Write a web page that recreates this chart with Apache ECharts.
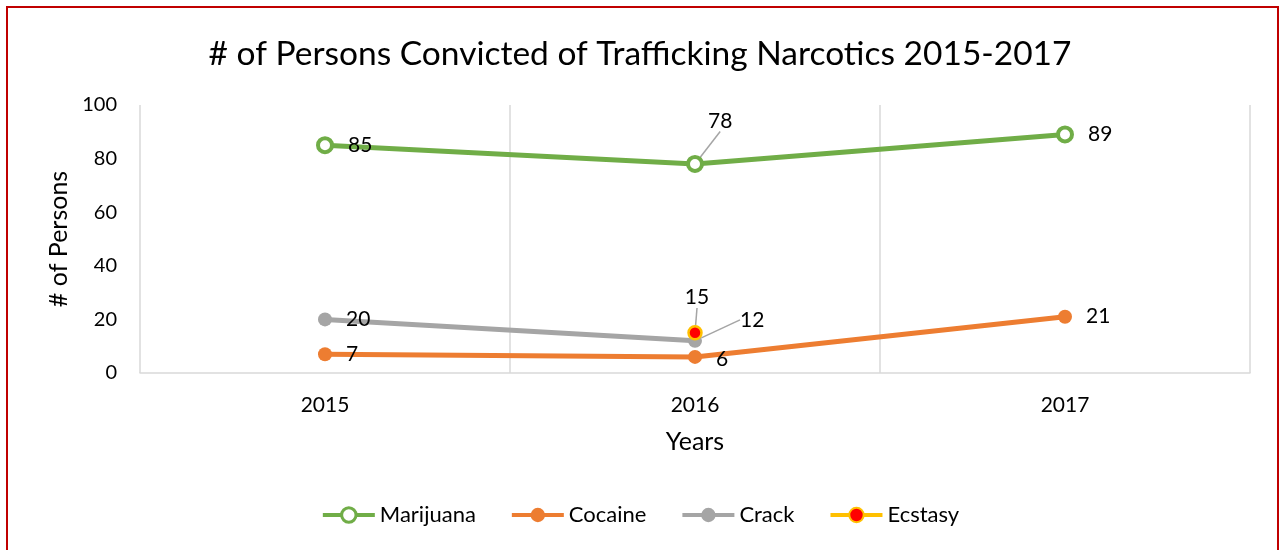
<!DOCTYPE html>
<html>
<head>
<meta charset="utf-8">
<script src="https://cdn.jsdelivr.net/npm/echarts@6/dist/echarts.min.js"></script>
<style>
  html, body { margin: 0; padding: 0; background: #fff; }
  #chart { width: 1280px; height: 550px; }
</style>
</head>
<body>
<div id="chart"></div>
<script>
// Convictions for narcotics trafficking, by drug and year
const years = ['2015', '2016', '2017'];
const marijuana = [85, 78, 89];
const cocaine = [7, 6, 21];
const crack = [20, 12, null];
const ecstasy = [null, 15, null];
const yTicks = { min: 0, max: 100, interval: 20 };

const FONT = 'Lato, "Open Sans", sans-serif';
const GRID_COLOR = '#d9d9d9';
const LEADER = { show: true, lineStyle: { color: '#a5a5a5', width: 1.5 } };

function labelStyle(extra) {
  return Object.assign({
    show: true,
    fontFamily: FONT,
    fontSize: 21,
    color: '#000'
  }, extra);
}

// values with a guide line on selected points
function withLeader(values, indices) {
  return values.map(function (v, i) {
    if (v === null) return null;
    return indices.indexOf(i) >= 0 ? { value: v, labelLine: LEADER } : v;
  });
}

const chart = echarts.init(document.getElementById('chart'), null, { renderer: 'canvas' });

chart.setOption({
  backgroundColor: '#fff',
  animation: false,
  textStyle: { fontFamily: FONT },
  graphic: [{
    type: 'rect',
    shape: { x: 7, y: 7, width: 1271, height: 600 },
    style: { fill: 'none', stroke: '#c00000', lineWidth: 2 },
    silent: true
  }],
  title: {
    text: '# of Persons Convicted of Trafficking Narcotics 2015-2017',
    left: 'center',
    top: 32,
    textStyle: { fontFamily: FONT, fontSize: 33.5, fontWeight: 'normal', color: '#000' }
  },
  legend: {
    bottom: 19,
    left: 'center',
    itemWidth: 52,
    itemHeight: 18,
    itemGap: 34,
    textStyle: { fontFamily: FONT, fontSize: 22, color: '#000' },
    data: [
      { name: 'Marijuana', lineStyle: { width: 4 }, itemStyle: { borderWidth: 3 } },
      { name: 'Cocaine', lineStyle: { width: 4 } },
      { name: 'Crack', lineStyle: { width: 4 } },
      { name: 'Ecstasy', lineStyle: { width: 4 } }
    ]
  },
  grid: { left: 140, right: 30, top: 105, bottom: 177 },
  xAxis: {
    type: 'category',
    data: years,
    boundaryGap: true,
    name: 'Years',
    nameLocation: 'middle',
    nameGap: 56,
    nameTextStyle: { fontFamily: FONT, fontSize: 25, color: '#000' },
    axisLine: { show: true, lineStyle: { color: GRID_COLOR, width: 1.5 } },
    axisTick: { show: false },
    axisLabel: { fontFamily: FONT, fontSize: 21, color: '#000', margin: 22 },
    splitLine: { show: true, lineStyle: { color: GRID_COLOR, width: 1.5 } }
  },
  yAxis: {
    type: 'value',
    min: yTicks.min,
    max: yTicks.max,
    interval: yTicks.interval,
    name: '# of Persons',
    nameLocation: 'middle',
    nameGap: 68,
    nameTextStyle: { fontFamily: FONT, fontSize: 25, color: '#000' },
    axisLine: { show: false },
    axisTick: { show: false },
    axisLabel: { fontFamily: FONT, fontSize: 20, color: '#000', margin: 23 },
    splitLine: { show: false }
  },
  series: [
    {
      name: 'Marijuana',
      type: 'line',
      data: withLeader(marijuana, [1]),
      symbol: 'circle',
      symbolSize: 14,
      color: '#70ad47',
      lineStyle: { color: '#70ad47', width: 5 },
      itemStyle: { color: '#fff', borderColor: '#70ad47', borderWidth: 4 },
      label: labelStyle({ position: 'right', distance: 14 }),
      labelLayout: function (p) {
        if (p.dataIndex === 1) {
          return { dx: -10, dy: -43 };
        }
        return {};
      },
      labelLine: { show: false },
      z: 3
    },
    {
      name: 'Cocaine',
      type: 'line',
      data: cocaine,
      symbol: 'circle',
      symbolSize: 14,
      color: '#ed7d31',
      lineStyle: { color: '#ed7d31', width: 5 },
      itemStyle: { color: '#ed7d31' },
      label: labelStyle({ position: 'right', distance: 14 }),
      labelLayout: function (p) {
        if (p.dataIndex === 1) {
          return { dy: 2 };
        }
        return {};
      },
      labelLine: { show: false },
      z: 2
    },
    {
      name: 'Crack',
      type: 'line',
      data: withLeader(crack, [1]),
      symbol: 'circle',
      symbolSize: 14,
      color: '#a5a5a5',
      lineStyle: { color: '#a5a5a5', width: 5 },
      itemStyle: { color: '#a5a5a5' },
      label: labelStyle({ position: 'right', distance: 14 }),
      labelLayout: function (p) {
        if (p.dataIndex === 1) {
          return { dx: 24, dy: -21 };
        }
        return {};
      },
      labelLine: { show: false },
      z: 4
    },
    {
      name: 'Ecstasy',
      type: 'line',
      data: withLeader(ecstasy, [1]),
      symbol: 'circle',
      symbolSize: 13,
      color: '#ffc000',
      lineStyle: { color: '#ffc000', width: 5 },
      itemStyle: { color: '#ff0000', borderColor: '#ffc000', borderWidth: 2.5 },
      label: labelStyle({ position: 'top', distance: 5 }),
      labelLayout: function () {
        return { dx: 2, dy: -12 };
      },
      labelLine: { show: false },
      z: 5
    }
  ]
});
</script>
</body>
</html>
